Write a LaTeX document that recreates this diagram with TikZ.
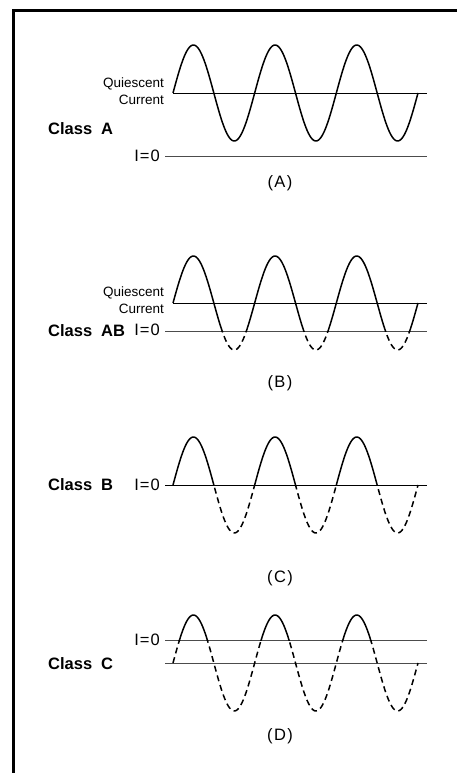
\documentclass[tikz,border=0pt]{standalone}
\usepackage{fontspec}
\setmainfont{Liberation Sans}
\usepackage{tikz}
\usetikzlibrary{positioning}

% one sine path in picture units: centre line, amplitude
\newcommand{\sinepath}[2]{plot[domain=173:418, samples=200] (\x, {#1-#2*sin(4.4082*(\x-173))})}
\newcommand{\izero}{I\kern1pt=\kern1pt0}

\begin{document}
\begin{tikzpicture}[x=1pt, y=-1pt]
  \tikzstyle{wave}=[line width=1.5pt, line join=round]
  \tikzstyle{cut}=[wave, dash pattern=on 6pt off 4pt]
  \tikzstyle{base}=[line width=0.9pt]
  \tikzstyle{zero}=[line width=0.9pt, black!70]
  \tikzstyle{cls}=[anchor=west, inner sep=0pt, font=\bfseries\fontsize{16.5}{18}\selectfont]
  \tikzstyle{qc}=[anchor=east, inner sep=0pt, align=right, font=\fontsize{13.5}{17}\selectfont]
  \tikzstyle{izlabel}=[anchor=east, inner sep=0pt, font=\fontsize{16.5}{18}\selectfont]
  \tikzstyle{sublabel}=[inner sep=0pt, font=\fontsize{16.5}{18}\selectfont]
  \useasboundingbox (0,0) rectangle (457,773);
  \draw[line width=3pt] (13,773) -- (13,11) -- (457,11);

  % (A) class A
  \node[qc] (qA) at (164,91) {Quiescent\\Current};
  \node[cls] (clsA) at (48,129) {Class\hspace{9pt}A};
  \node[izlabel] (izA) at (160,156) {\izero};
  \coordinate (qendA) at (427,93);
  \draw[base] (173,93) -- (qendA);
  \draw[zero] ([xshift=5pt]izA.east) -- (427,156);
  \draw[wave] \sinepath{93}{48};
  \node[sublabel] (capA) at (280,183) {(\kern1.5pt A\kern1.5pt)};

  % (B) class AB
  \node[qc] (qB) at (164,300) {Quiescent\\Current};
  \node[cls] (clsB) at (48,331) {Class\hspace{9pt}AB};
  \node[izlabel] (izB) at (160,330) {\izero};
  \draw[base] (173,303) -- (427,303);
  \draw[zero] (165,331) -- (427,331);
  \begin{scope}
    \clip (160,200) rectangle (440,331);
    \draw[wave] \sinepath{303}{47};
  \end{scope}
  \begin{scope}
    \clip (160,331) rectangle (440,380);
    \draw[cut] \sinepath{303}{47};
  \end{scope}
  \node[sublabel] (capB) at (280,383) {(\kern1.5pt B\kern1.5pt)};

  % (C) class B
  \node[cls] (clsC) at (48,485) {Class\hspace{9pt}B};
  \node[izlabel] (izC) at (160,485) {\izero};
  \draw[base] ([xshift=5pt]izC.east) -- (427,485);
  \begin{scope}
    \clip (160,420) rectangle (440,485);
    \draw[wave] \sinepath{485}{48};
  \end{scope}
  \begin{scope}
    \clip (160,485) rectangle (440,560);
    \draw[cut] \sinepath{485}{48};
  \end{scope}
  \node[sublabel] (capC) at (280,578) {(\kern1.5pt C\kern1.5pt)};

  % (D) class C
  \node[cls] (clsD) at (48,664) {Class\hspace{9pt}C};
  \node[izlabel] (izD) at (160,640) {\izero};
  \draw[zero] ([xshift=5pt]izD.east) -- (427,640);
  \draw[zero] (165,663) -- (427,663);
  \begin{scope}
    \clip (160,600) rectangle (440,640);
    \draw[wave] \sinepath{663}{48};
  \end{scope}
  \begin{scope}
    \clip (160,640) rectangle (440,720);
    \draw[cut] \sinepath{663}{48};
  \end{scope}
  \node[sublabel] (capD) at (280,736) {(\kern1.5pt D\kern1.5pt)};
\end{tikzpicture}
\end{document}
